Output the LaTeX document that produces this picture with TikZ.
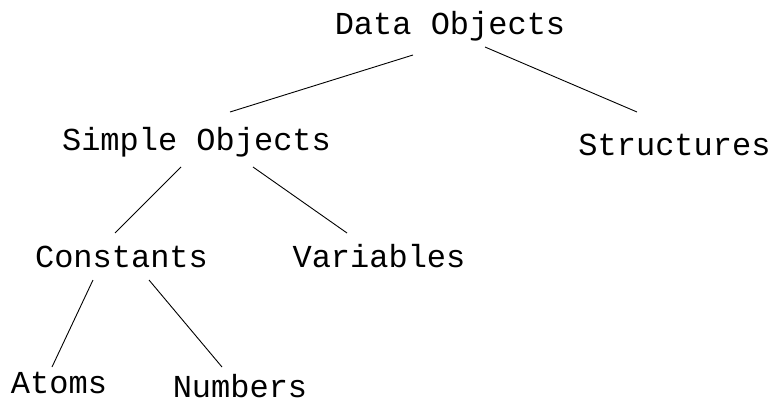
\documentclass[tikz,border=0pt]{standalone}
\usepackage{fontspec}
\setmonofont{Liberation Mono}
\begin{document}
\begin{tikzpicture}[x=1pt,y=-1pt,
  label/.style={anchor=base,inner sep=0pt,font=\ttfamily\fontsize{32}{36}\selectfont},
  edge/.style={line width=0.9pt}]
\useasboundingbox (0,0) rectangle (774,401);
% labels of the hierarchy
\node[label] (do) at (450,35)   {Data Objects};
\node[label] (so) at (196.5,150){Simple Objects};
\node[label] (st) at (674.5,156){Structures};
\node[label] (co) at (121.5,267){Constants};
\node[label] (va) at (379,267)  {Variables};
\node[label] (at) at (59,393)   {Atoms};
\node[label] (nu) at (240,397)  {Numbers};
% branches
\draw[edge] ([shift={(-37,20)}]do.base) -- ([shift={(33.5,-38)}]so.base);
\draw[edge] ([shift={(35,12)}]do.base) -- ([shift={(-37.5,-44)}]st.base);
\draw[edge] ([shift={(-15.5,17)}]so.base) -- ([shift={(-6.5,-34)}]co.base);
\draw[edge] ([shift={(56.5,17)}]so.base) -- ([shift={(-32,-34)}]va.base);
\draw[edge] ([shift={(-28.5,13)}]co.base) -- ([shift={(-7,-26)}]at.base);
\draw[edge] ([shift={(27.5,13)}]co.base) -- ([shift={(-18,-30)}]nu.base);
\end{tikzpicture}
\end{document}
